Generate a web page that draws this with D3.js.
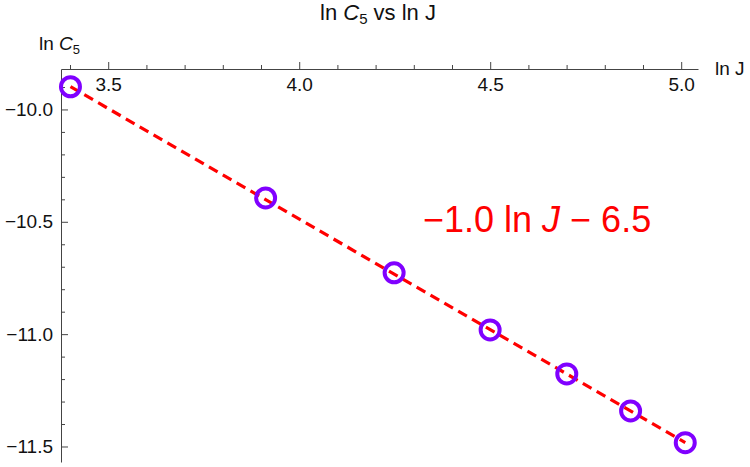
<!DOCTYPE html>
<html>
<head>
<meta charset="utf-8">
<script src="https://cdn.jsdelivr.net/npm/d3@7"></script>
<style>
  body { margin: 0; background: #fff; }
  text { font-family: "Liberation Sans", Arial, sans-serif; }
</style>
</head>
<body>
<div id="chart"></div>
<script>
// data: J values and ln C5
let jValues = [30, 50, 70, 90, 110, 130, 150];
let lnC5 = [-9.899, -10.394, -10.727, -10.981, -11.177, -11.342, -11.483];
let fitSlope = -0.984;
let fitIntercept = -6.552;
let xMajor = [3.5, 4.0, 4.5, 5.0];
let xMinor = [3.4, 3.6, 3.7, 3.8, 3.9, 4.1, 4.2, 4.3, 4.4, 4.6, 4.7, 4.8, 4.9];
let yMajor = [-10.0, -10.5, -11.0, -11.5];
let yMinor = [-9.9, -10.1, -10.2, -10.3, -10.4, -10.6, -10.7, -10.8, -10.9, -11.1, -11.2, -11.3, -11.4];

let svgWidth = 750;
let svgHeight = 467;
let fontSize = 19;

let svg = d3.select('#chart')
    .append('svg')
    .attr('width', svgWidth)
    .attr('height', svgHeight);

let points = jValues.map((j, i) => ({ x: Math.log(j), y: lnC5[i] }));

let xScale = d3.scaleLinear()
    .domain([3.3764, 5.044])
    .range([61, 698]);

let yScale = d3.scaleLinear()
    .domain([-9.82, -11.569])
    .range([69, 462]);

let axisColor = '#444';

// x axis along the top, ticks pointing up, labels below
let xAxisG = svg.append('g')
    .attr('transform', `translate(0, ${yScale(-9.82)})`);
xAxisG.append('g')
    .call(d3.axisBottom(xScale).tickValues(xMinor).tickSize(-4).tickSizeOuter(0).tickFormat(''))
    .call(g => g.select('.domain').remove());
xAxisG.append('g')
    .call(d3.axisBottom(xScale).tickValues(xMajor).tickSize(-7).tickSizeOuter(0)
        .tickPadding(9).tickFormat(d3.format('.1f')));

// y axis on the left, ticks pointing right
let yAxisG = svg.append('g')
    .attr('transform', `translate(${xScale(3.3764)}, 0)`);
yAxisG.append('g')
    .call(d3.axisLeft(yScale).tickValues(yMinor).tickSize(-4).tickSizeOuter(0).tickFormat(''))
    .call(g => g.select('.domain').remove());
yAxisG.append('g')
    .call(d3.axisLeft(yScale).tickValues(yMajor).tickSize(-7).tickSizeOuter(0)
        .tickPadding(8).tickFormat(d3.format('.1f')));

svg.selectAll('.domain, .tick line').attr('stroke', axisColor).attr('stroke-width', 1);
svg.selectAll('.tick text').attr('font-size', fontSize).attr('fill', '#111')
    .attr('font-family', '"Liberation Sans", Arial, sans-serif');

// fitted dashed line
let x0 = points[0].x;
let x1 = points[points.length - 1].x;
svg.append('line')
    .attr('x1', xScale(x0))
    .attr('y1', yScale(fitSlope * x0 + fitIntercept))
    .attr('x2', xScale(x1))
    .attr('y2', yScale(fitSlope * x1 + fitIntercept))
    .attr('stroke', '#ff0000')
    .attr('stroke-width', 3.2)
    .attr('stroke-dasharray', '10,6');

// data circles
svg.selectAll('circle.pt')
    .data(points)
    .enter()
    .append('circle')
    .attr('class', 'pt')
    .attr('cx', d => xScale(d.x))
    .attr('cy', d => yScale(d.y))
    .attr('r', 9.5)
    .attr('fill', 'none')
    .attr('stroke', '#8000ff')
    .attr('stroke-width', 4);

// title
let title = svg.append('text')
    .attr('x', 378)
    .attr('y', 20)
    .attr('text-anchor', 'middle')
    .attr('font-size', 22)
    .attr('fill', '#111');
title.append('tspan').text('ln ');
title.append('tspan').attr('font-style', 'italic').text('C');
title.append('tspan').attr('font-size', 15).attr('dy', 4).text('5');
title.append('tspan').attr('dy', -4).text(' vs ln J');

// y axis label
let yLabel = svg.append('text')
    .attr('x', 39)
    .attr('y', 50)
    .attr('font-size', fontSize)
    .attr('fill', '#111');
yLabel.append('tspan').text('ln ');
yLabel.append('tspan').attr('font-style', 'italic').text('C');
yLabel.append('tspan').attr('font-size', 13).attr('dy', 4).text('5');

// x axis label
svg.append('text')
    .attr('x', 715)
    .attr('y', 75)
    .attr('font-size', fontSize)
    .attr('fill', '#111')
    .text('ln J');

// fit formula
let formula = svg.append('text')
    .attr('x', 423)
    .attr('y', 232)
    .attr('font-size', 36)
    .attr('fill', '#ff0000');
formula.append('tspan').text('\u22121.0 ln ');
formula.append('tspan').attr('font-style', 'italic').text('J');
formula.append('tspan').text(' \u2212 6.5');
</script>
</body>
</html>
